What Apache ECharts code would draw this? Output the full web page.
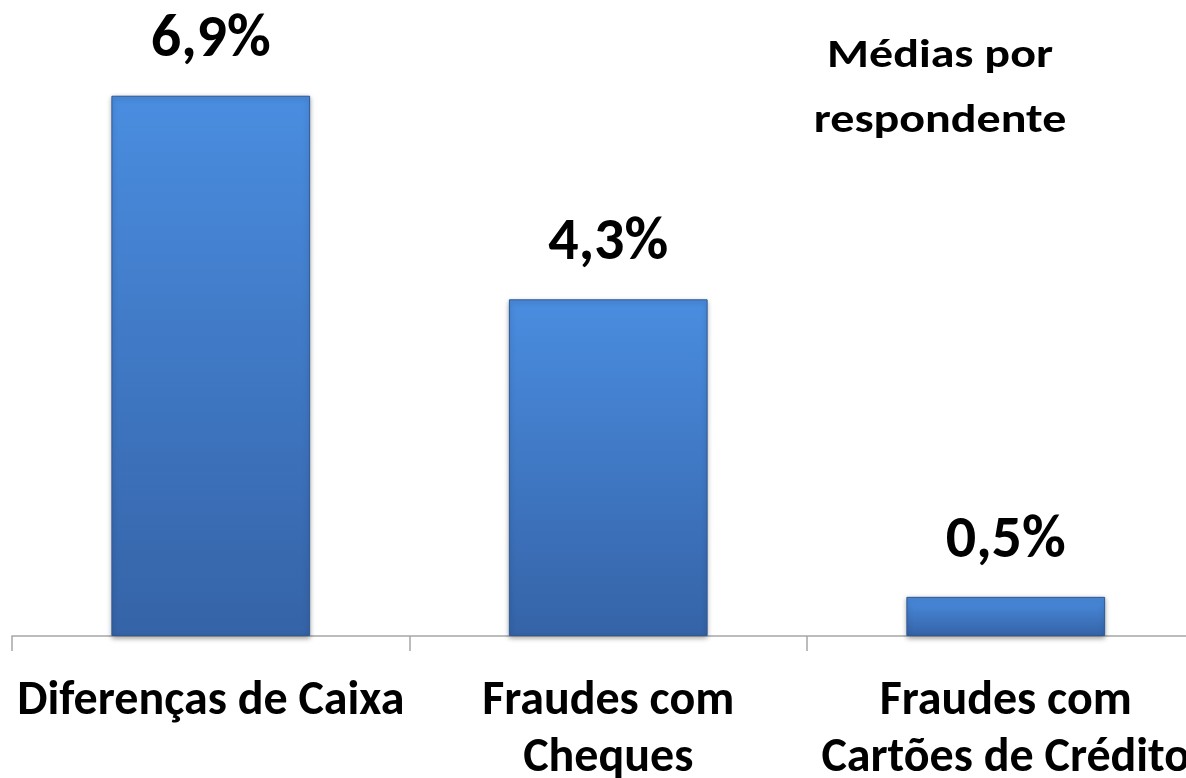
<!DOCTYPE html>
<html>
<head>
<meta charset="utf-8">
<script src="https://cdn.jsdelivr.net/npm/echarts@6/dist/echarts.min.js"></script>
<style>
html,body{margin:0;padding:0;background:#ffffff;}
#chart{width:1186px;height:778px;}
</style>
</head>
<body>
<div id="chart"></div>
<script>
const categories = ['Diferenças de Caixa', 'Fraudes com\nCheques', 'Fraudes com\nCartões de Crédito'];
const values = [6.9, 4.3, 0.5];
const valueLabels = ['6,9%', '4,3%', '0,5%'];
const note = 'Médias por\nrespondente';

const FONT = "Carlito, 'Open Sans', Lato, sans-serif";
const chart = echarts.init(document.getElementById('chart'));
chart.setOption({
  backgroundColor: '#ffffff',
  animation: false,
  grid: { left: 12, width: 1192.5, top: 9.6, height: 626.4, containLabel: false, outerBoundsMode: 'none' },
  xAxis: {
    type: 'category',
    data: categories,
    axisLine: { show: true, lineStyle: { color: '#a6a6a6', width: 1.5 } },
    axisTick: { show: true, length: 15, lineStyle: { color: '#a6a6a6', width: 1.5 } },
    axisLabel: {
      interval: 0, margin: 37, color: '#000000',
      fontFamily: FONT, fontWeight: 'bold', fontSize: 48, lineHeight: 57
    }
  },
  yAxis: { type: 'value', min: 0, max: 8, show: false, splitLine: { show: false } },
  series: [{
    type: 'bar',
    data: values,
    barWidth: '50%',
    itemStyle: {
      color: new echarts.graphic.LinearGradient(0, 0, 0, 1, [
        { offset: 0, color: '#4a8de0' },
        { offset: 1, color: '#3563a7' }
      ]),
      borderColor: '#2d5894',
      borderWidth: 1,
      shadowColor: 'rgba(0,0,0,0.35)',
      shadowBlur: 5,
      shadowOffsetY: 2
    },
    label: {
      show: true, position: 'top', distance: 25,
      formatter: p => valueLabels[p.dataIndex],
      color: '#000000', fontFamily: FONT, fontWeight: 'bold', fontSize: 60
    }
  }],
  graphic: [{
    type: 'text', x: 940, y: 25, scaleY: 0.84,
    style: {
      text: note, x: 0, y: 0, align: 'center',
      fill: '#000000', font: "bold 48px " + FONT, lineHeight: 77
    }
  }]
});
</script>
</body>
</html>
